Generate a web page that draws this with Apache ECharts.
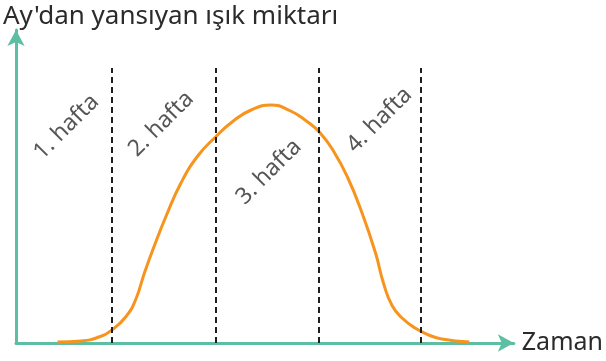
<!DOCTYPE html>
<html>
<head>
<meta charset="utf-8">
<script src="https://cdn.jsdelivr.net/npm/echarts@6/dist/echarts.min.js"></script>
<style>
  html, body { margin: 0; padding: 0; background: #fff; }
  #chart { width: 606px; height: 361px; }
</style>
</head>
<body>
<div id="chart"></div>
<script>
// curve of reflected light (x: time, y: amount)
const curveX = [42, 66, 84, 97, 111, 121, 130, 140, 152, 167, 184, 202, 220, 238, 258, 278, 294, 308, 322, 336, 350, 364, 372, 381, 392, 404, 418, 431, 459]
const curveY = [1, 2, 6, 13, 26, 43, 70, 97, 127, 160, 187, 206, 222, 233, 238, 232, 222, 210, 191, 165, 131, 90, 60, 37, 24, 15, 8, 4, 1]
// week boundaries (dashed lines)
const weekBounds = [97, 202, 306, 410]
const boundTop = 275
// week labels
const weekNames = ['1. hafta', '2. hafta', '3. hafta', '4. hafta']
const weekLabelX = [51, 147, 256, 368]
const weekLabelY = [216, 219, 171, 223]

const chart = echarts.init(document.getElementById('chart'))

const axisColor = '#5cbfa4'
const textColor = '#2b2b2b'
const font = 'Noto Sans'

chart.setOption({
  animation: false,
  title: {
    text: "Ay'dan yansıyan ışık miktarı",
    left: -2,
    top: -1,
    textStyle: { fontFamily: font, fontSize: 26, fontWeight: 'normal', color: textColor }
  },
  grid: { left: 16, right: 86, top: 30, bottom: 18 },
  xAxis: {
    type: 'value',
    min: 0,
    max: 504,
    name: 'Zaman',
    nameLocation: 'end',
    nameGap: 8,
    nameTextStyle: { fontFamily: font, fontSize: 25, color: textColor },
    axisLine: {
      show: true,
      symbol: ['none', 'arrow'],
      symbolSize: [13, 16],
      lineStyle: { color: axisColor, width: 3 }
    },
    axisTick: { show: false },
    axisLabel: { show: false },
    splitLine: { show: false }
  },
  yAxis: {
    type: 'value',
    min: 0,
    max: 313,
    axisLine: {
      show: true,
      symbol: ['none', 'arrow'],
      symbolSize: [13, 16],
      lineStyle: { color: axisColor, width: 3 }
    },
    axisTick: { show: false },
    axisLabel: { show: false },
    splitLine: { show: false }
  },
  series: [
    {
      type: 'line',
      smooth: 0.5,
      symbol: 'none',
      data: curveX.map((x, i) => [x, curveY[i]]),
      lineStyle: { color: '#f7941d', width: 3 },
      z: 3,
      markLine: {
        silent: true,
        symbol: 'none',
        label: { show: false },
        lineStyle: { color: '#1e1e1e', type: [6, 4], width: 2 },
        data: weekBounds.map(x => [{ coord: [x, 0] }, { coord: [x, boundTop] }])
      }
    },
    {
      type: 'scatter',
      symbolSize: 0,
      silent: true,
      data: weekNames.map((n, i) => ({ name: n, value: [weekLabelX[i], weekLabelY[i]] })),
      label: {
        show: true,
        position: 'inside',
        rotate: 45,
        formatter: p => p.name,
        fontFamily: font,
        fontSize: 23,
        color: textColor
      }
    }
  ]
})
</script>
</body>
</html>
